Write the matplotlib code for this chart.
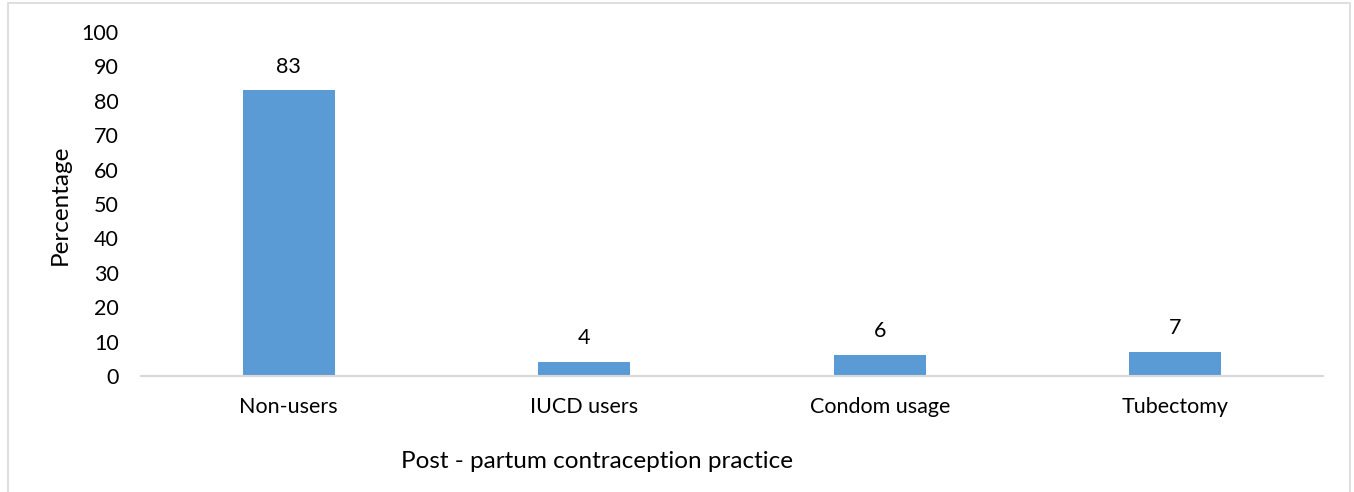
import matplotlib
matplotlib.use("Agg")
import matplotlib.pyplot as plt
from matplotlib.patches import Rectangle

categories = ["Non-users", "IUCD users", "Condom usage", "Tubectomy"]
values = [83, 4, 6, 7]
yticks = [0, 10, 20, 30, 40, 50, 60, 70, 80, 90, 100]

plt.rcParams['font.family'] = ['Lato', 'DejaVu Sans']
W, H = 1354, 492
fig = plt.figure(figsize=(W / 100, H / 100), dpi=100)
ax = fig.add_axes([141 / W, 1 - 376 / H, (1323 - 141) / W, (376 - 32) / H])

x = list(range(len(categories)))
bars = ax.bar(x, values, width=0.31, color="#5B9BD5", zorder=2)
ax.set_xlim(-0.5, len(categories) - 0.5)
ax.set_ylim(0, 100)
ax.set_yticks(yticks)
ax.set_yticklabels([str(v) for v in yticks], fontsize=15.5)
ax.set_xticks(x)
ax.set_xticklabels(categories, fontsize=15.5)
ax.tick_params(axis='y', length=0, pad=16)
ax.tick_params(axis='x', length=0, pad=15)
for s in ["top", "right", "left"]:
    ax.spines[s].set_visible(False)
ax.spines["bottom"].set_color("#D9D9D9")
ax.spines["bottom"].set_linewidth(1.5)

for xi, v in zip(x, values):
    ax.annotate(str(v), (xi, v), xytext=(0, 10), textcoords="offset points",
                ha="center", va="bottom", fontsize=15.5)

fig.text(60 / W, 1 - 205 / H, "Percentage", rotation=90, ha="center", va="center", fontsize=17.5)
fig.text(597 / W, 1 - 461 / H, "Post - partum contraception practice", ha="center", va="center", fontsize=17.5)

fig.patches.append(Rectangle((8 / W, -0.1), (1350 - 8) / W, 1.1 - 3 / H,
                             transform=fig.transFigure, fill=False,
                             edgecolor="#D9D9D9", linewidth=1.2))

fig.savefig("out.png", dpi=100)
